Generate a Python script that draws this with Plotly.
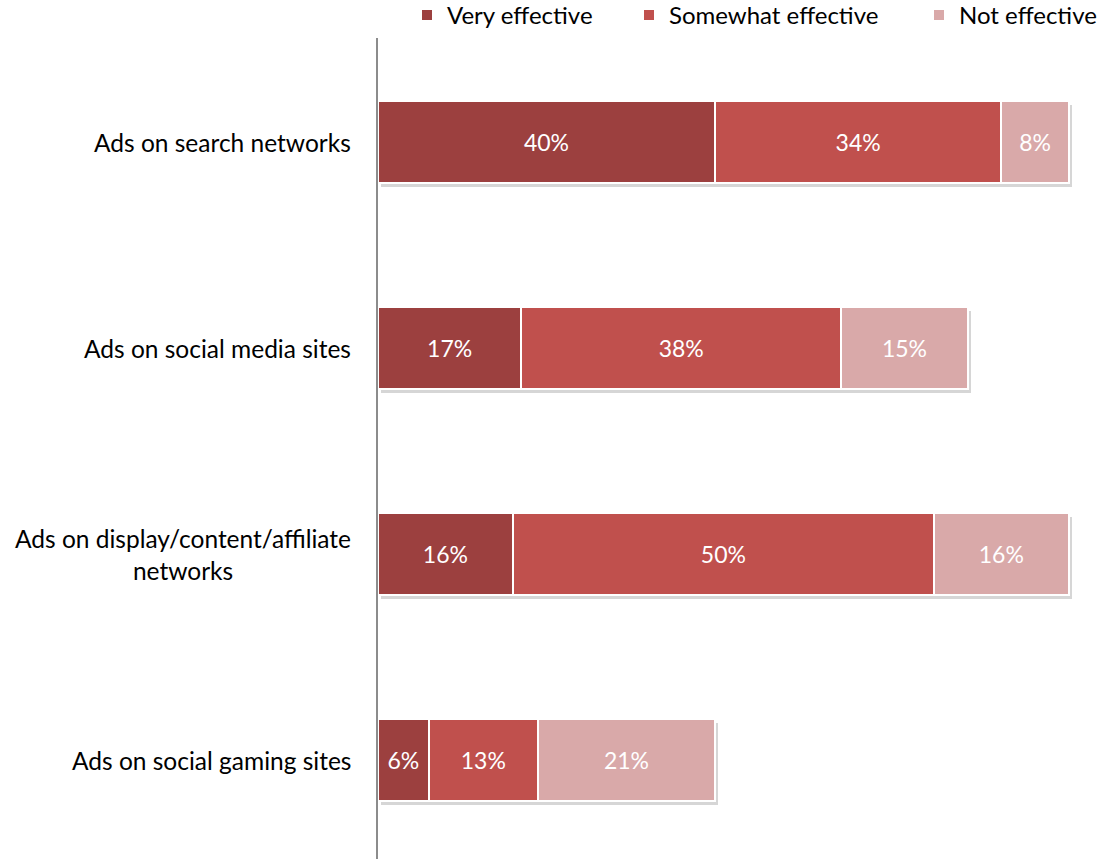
import plotly.graph_objects as go

categories = ["Ads on search networks", "Ads on social media sites",
              "Ads on display/content/affiliate<br>networks", "Ads on social gaming sites"]
series_names = ["Very effective", "Somewhat effective", "Not effective"]
very_effective = [40, 17, 16, 6]
somewhat_effective = [34, 38, 50, 13]
not_effective = [8, 15, 16, 21]
colors = ["#9C403F", "#C0504D", "#D9A9A9"]
legend_widths = [177, 245, None]

FONT = "Lato"
X_RANGE = [0, 85]
Y_RANGE = [3.48, -0.505]
series = [very_effective, somewhat_effective, not_effective]
totals = [sum(v) for v in zip(*series)]

fig = go.Figure()
# soft drop shadow under each stacked bar (base axes, slightly offset ranges)
fig.add_trace(go.Bar(
    y=categories, x=totals, orientation="h", xaxis="x", yaxis="y",
    marker=dict(color="rgba(0,0,0,0.16)", line=dict(width=0)),
    showlegend=False, hoverinfo="skip",
))
for name, vals, col, lw in zip(series_names, series, colors, legend_widths):
    fig.add_trace(go.Bar(
        y=categories, x=vals, name=name, orientation="h", xaxis="x2", yaxis="y2",
        marker=dict(color=col, line=dict(color="white", width=2)),
        text=[f"{v}%" for v in vals], textposition="inside", insidetextanchor="middle",
        textfont=dict(color="white", size=23, family=FONT),
        hoverinfo="skip", legendwidth=lw,
    ))

for c in categories:
    fig.add_annotation(x=0, xref="paper", y=c, yref="y2", text=c, showarrow=False,
                       xanchor="right", xshift=-25, align="center",
                       font=dict(size=24.5, family=FONT, color="#000"))

dx = 3 / 8.42
dy = 4 / 206
fig.update_layout(
    width=1104, height=859, barmode="stack", bargap=0.6,
    paper_bgcolor="white", plot_bgcolor="white",
    margin=dict(l=378, r=10, t=38, b=0, autoexpand=False),
    font=dict(family=FONT, size=24, color="#000"),
    legend=dict(orientation="h", x=(407 - 378) / 716, xanchor="left", y=1, yanchor="bottom",
                font=dict(size=24, family=FONT), traceorder="normal",
                itemwidth=30, bgcolor="rgba(0,0,0,0)"),
    xaxis=dict(range=[X_RANGE[0] - dx, X_RANGE[1] - dx], visible=False, fixedrange=True),
    yaxis=dict(range=[Y_RANGE[0] - dy, Y_RANGE[1] - dy], visible=False, fixedrange=True),
    xaxis2=dict(range=X_RANGE, visible=False, fixedrange=True, overlaying="x"),
    yaxis2=dict(range=Y_RANGE, overlaying="y", showticklabels=False, showline=True,
                linecolor="#8c8c8c", linewidth=1.5, showgrid=False, ticks="",
                zeroline=False, fixedrange=True),
)

fig.write_html("out.html", config={"displayModeBar": False},
               post_script="document.body.style.margin='0';document.body.style.overflow='hidden';")
